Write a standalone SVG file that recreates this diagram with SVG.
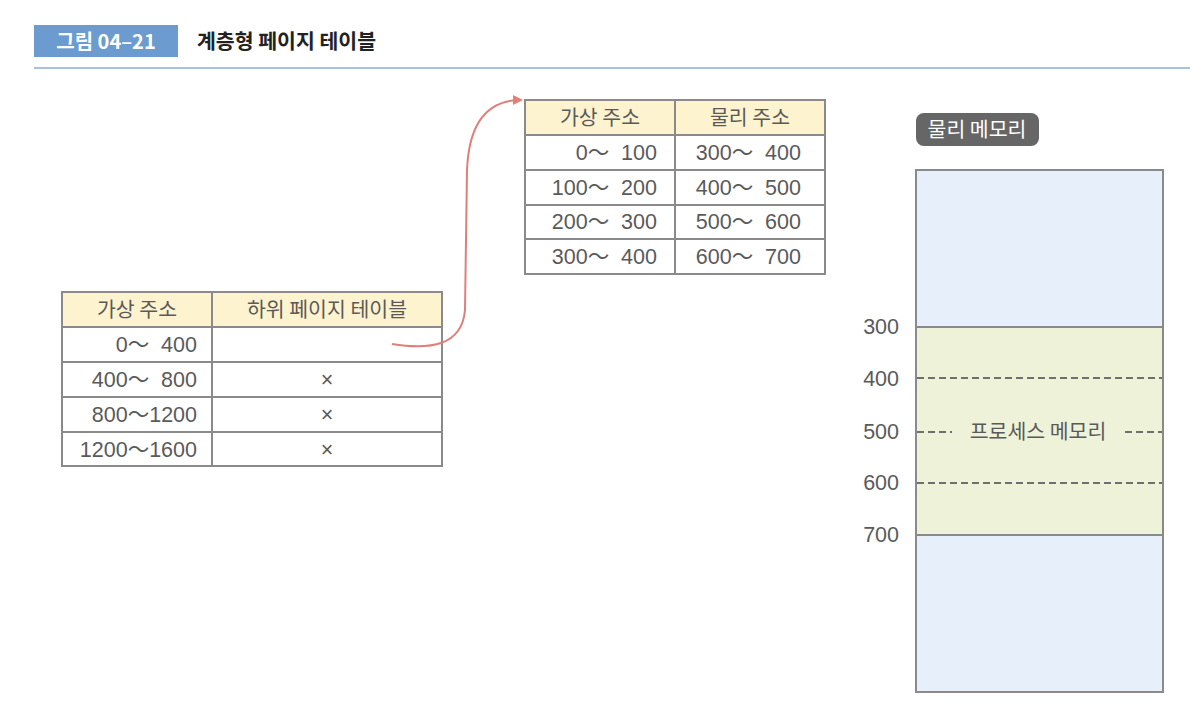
<svg xmlns="http://www.w3.org/2000/svg" width="1202" height="728" viewBox="0 0 1202 728">
<style>
text{font-family:"Noto Sans CJK KR","Noto Sans",sans-serif;fill:#5a5a5a;font-size:20.5px}
.c{text-anchor:middle}
.r{text-anchor:end}
.cell{fill:#fff;stroke:#8a8a8a;stroke-width:2}
.hd{fill:#fdf3cf;stroke:#8a8a8a;stroke-width:2}
.n{font-family:"Liberation Sans","Noto Sans CJK KR",sans-serif;font-size:21.5px}
.dash{stroke:#6f6f6f;stroke-width:2;stroke-dasharray:7,4}
</style>
<defs>
<marker id="ah" markerWidth="10" markerHeight="10" refX="8" refY="5" orient="auto" markerUnits="userSpaceOnUse">
<path d="M0,0 L10,5 L0,10 Z" fill="#e07f7a"/>
</marker>
</defs>
<rect width="1202" height="728" fill="#fff"/>
<g id="header">
<rect x="34" y="25" width="144" height="32" fill="#6b9bcf"/>
<text x="106" y="48.500" class="c" style="fill:#fff;font-weight:bold;font-size:20px">그림 04–21</text>
<text x="197" y="48.500" style="fill:#222;font-weight:bold;font-size:20.5px">계층형 페이지 테이블</text>
<line x1="34" y1="68" x2="1190" y2="68" stroke="#a9c2dc" stroke-width="2"/>
</g>
<g id="table-outer">
<rect class="hd" x="62" y="292" width="150" height="35"/>
<rect class="hd" x="212" y="292" width="230" height="35"/>
<rect class="cell" x="62" y="327" width="150" height="35"/>
<rect class="cell" x="212" y="327" width="230" height="35"/>
<rect class="cell" x="62" y="362" width="150" height="35"/>
<rect class="cell" x="212" y="362" width="230" height="35"/>
<rect class="cell" x="62" y="397" width="150" height="35"/>
<rect class="cell" x="212" y="397" width="230" height="35"/>
<rect class="cell" x="62" y="432" width="150" height="34"/>
<rect class="cell" x="212" y="432" width="230" height="34"/>
<text x="137" y="317" class="c">가상 주소</text>
<text x="327" y="317" class="c">하위 페이지 테이블</text>
<text x="197" y="352" class="r n" xml:space="preserve">0～  400</text>
<text x="197" y="387" class="r n" xml:space="preserve">400～  800</text>
<text x="197" y="422" class="r n">800～1200</text>
<text x="197" y="457" class="r n">1200～1600</text>
<text x="327" y="387" class="c n">×</text>
<text x="327" y="422" class="c n">×</text>
<text x="327" y="457" class="c n">×</text>
</g>
<g id="table-inner">
<rect class="hd" x="525" y="100" width="150" height="35"/>
<rect class="hd" x="675" y="100" width="150" height="35"/>
<rect class="cell" x="525" y="135" width="150" height="35"/>
<rect class="cell" x="675" y="135" width="150" height="35"/>
<rect class="cell" x="525" y="170" width="150" height="35"/>
<rect class="cell" x="675" y="170" width="150" height="35"/>
<rect class="cell" x="525" y="205" width="150" height="34"/>
<rect class="cell" x="675" y="205" width="150" height="34"/>
<rect class="cell" x="525" y="239" width="150" height="35"/>
<rect class="cell" x="675" y="239" width="150" height="35"/>
<text x="600" y="125" class="c">가상 주소</text>
<text x="750" y="125" class="c">물리 주소</text>
<text x="657" y="160" class="r n" xml:space="preserve">0～  100</text>
<text x="657" y="195" class="r n" xml:space="preserve">100～  200</text>
<text x="657" y="229" class="r n" xml:space="preserve">200～  300</text>
<text x="657" y="264" class="r n" xml:space="preserve">300～  400</text>
<text x="801" y="160" class="r n" xml:space="preserve">300～  400</text>
<text x="801" y="195" class="r n" xml:space="preserve">400～  500</text>
<text x="801" y="229" class="r n" xml:space="preserve">500～  600</text>
<text x="801" y="264" class="r n" xml:space="preserve">600～  700</text>
</g>
<g id="connectors">
<path d="M392,344 C430,350 462,346 465,310 L467,170 C469,120 490,100 521,100" fill="none" stroke="#e07f7a" stroke-width="2" marker-end="url(#ah)"/>
</g>
<g id="memory">
<rect x="916" y="113" width="123" height="33" rx="8" fill="#666"/>
<text x="977" y="137" class="c" style="fill:#fff">물리 메모리</text>
<rect x="916" y="170" width="247" height="522" fill="#e7f0fa" stroke="#8a8a8a" stroke-width="2"/>
<rect x="916" y="327" width="247" height="208" fill="#eef2d8" stroke="#8a8a8a" stroke-width="2"/>
<line x1="917" y1="378" x2="1162" y2="378" class="dash"/>
<line x1="917" y1="483" x2="1162" y2="483" class="dash"/>
<line x1="917" y1="432" x2="952" y2="432" class="dash"/>
<line x1="1125" y1="432" x2="1162" y2="432" class="dash"/>
<text x="1038" y="439" class="c">프로세스 메모리</text>
<text x="899" y="334" class="r n">300</text>
<text x="899" y="386" class="r n">400</text>
<text x="899" y="439" class="r n">500</text>
<text x="899" y="490" class="r n">600</text>
<text x="899" y="542" class="r n">700</text>
</g>
</svg>
